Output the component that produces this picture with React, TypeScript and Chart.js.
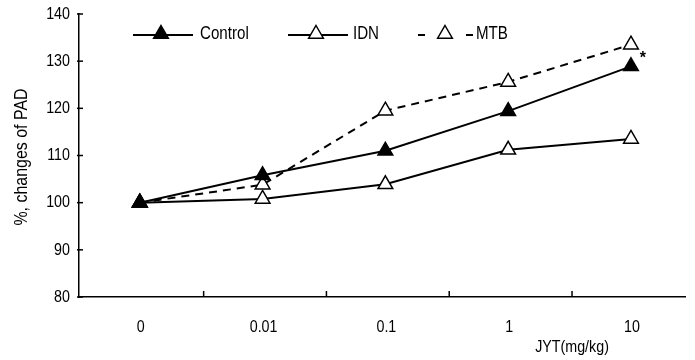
import React, { useEffect, useRef } from "react";
import { Chart, registerables } from "chart.js";

Chart.register(...registerables);

const categories = ["0", "0.01", "0.1", "1", "10"];
const controlValues = [100, 105.8, 111, 119.4, 128.9];
const idnValues = [100, 100.8, 103.9, 111.2, 113.5];
const mtbValues = [100, 103.8, 119.5, 125.6, 133.5];
const yTicks = [80, 90, 100, 110, 120, 130, 140];
const xTitle = "JYT(mg/kg)";
const yTitle = "%, changes of PAD";
const legendLabels = ["Control", "IDN", "MTB"];

const FONT = "'Liberation Sans', Arial, sans-serif";
const SX = 0.84;

const toPoints = (vals: number[]) => vals.map((v, i) => ({ x: i, y: v }));

const narrowText = (
  ctx: CanvasRenderingContext2D,
  text: string,
  x: number,
  y: number,
  size: number,
  align: CanvasTextAlign,
  rotate = 0
) => {
  ctx.save();
  ctx.translate(x, y);
  if (rotate) ctx.rotate(rotate);
  ctx.scale(SX, 1);
  ctx.font = `${size}px ${FONT}`;
  ctx.textAlign = align;
  ctx.textBaseline = "middle";
  ctx.fillStyle = "#000";
  ctx.fillText(text, 0, 0);
  ctx.restore();
};

const decorPlugin = {
  id: "decor",
  afterDraw(chart: any) {
    const ctx = chart.ctx;
    const xs = chart.scales.x;
    const ys = chart.scales.y;
    const area = chart.chartArea;
    ctx.save();
    ctx.strokeStyle = "#000";
    ctx.fillStyle = "#000";
    ctx.lineWidth = 1.5;
    // inward tick marks on x axis between categories
    for (let i = 0; i < categories.length - 1; i++) {
      const px = xs.getPixelForValue(i + 0.52);
      ctx.beginPath();
      ctx.moveTo(px, area.bottom);
      ctx.lineTo(px, area.bottom - 6);
      ctx.stroke();
    }
    // y tick marks and labels
    yTicks.forEach((t) => {
      const py = ys.getPixelForValue(t);
      ctx.beginPath();
      ctx.moveTo(area.left - 2, py);
      ctx.lineTo(area.left + 4, py);
      ctx.stroke();
      narrowText(ctx, String(t), area.left - 9, py, 17, "right");
    });
    // x labels
    categories.forEach((c, i) => {
      narrowText(ctx, c, xs.getPixelForValue(i) + 1, 327, 17, "center");
    });
    // x title
    narrowText(ctx, xTitle, xs.getPixelForValue(3.52), 347, 17, "center");
    // y title
    narrowText(ctx, yTitle, 22, 157, 19, "center", -Math.PI / 2);
    // asterisk
    const ax = xs.getPixelForValue(4) + 12;
    const ay = ys.getPixelForValue(controlValues[4]) - 8;
    ctx.font = `bold 16px ${FONT}`;
    ctx.textAlign = "center";
    ctx.textBaseline = "middle";
    ctx.fillText("*", ax, ay);

    // legend
    const ly = 35;
    const tri = (cx: number, cy: number, filled: boolean) => {
      const r = 8.5;
      ctx.beginPath();
      ctx.moveTo(cx, cy - r);
      ctx.lineTo(cx + r * 0.866, cy + r * 0.5);
      ctx.lineTo(cx - r * 0.866, cy + r * 0.5);
      ctx.closePath();
      ctx.fillStyle = filled ? "#000" : "#fff";
      ctx.fill();
      ctx.lineWidth = 1.5;
      ctx.stroke();
      ctx.fillStyle = "#000";
    };
    ctx.lineWidth = 2;
    ctx.beginPath();
    ctx.moveTo(133, ly);
    ctx.lineTo(193, ly);
    ctx.stroke();
    tri(161, ly - 1, true);
    ctx.lineWidth = 2;
    ctx.beginPath();
    ctx.moveTo(288, ly);
    ctx.lineTo(348, ly);
    ctx.stroke();
    tri(316, ly - 1, false);
    ctx.lineWidth = 2;
    ctx.beginPath();
    ctx.moveTo(418, ly);
    ctx.lineTo(425, ly);
    ctx.moveTo(466, ly);
    ctx.lineTo(473, ly);
    ctx.stroke();
    tri(445, ly - 1, false);
    narrowText(ctx, legendLabels[0], 200, ly - 1, 18, "left");
    narrowText(ctx, legendLabels[1], 353, ly - 1, 18, "left");
    narrowText(ctx, legendLabels[2], 476, ly - 1, 18, "left");
    ctx.restore();
  },
};

export default function App() {
  const ref = useRef<HTMLCanvasElement>(null);
  useEffect(() => {
    if (!ref.current) return;
    const common = {
      pointStyle: "triangle",
      pointRadius: 8.5,
      pointBorderWidth: 1.5,
      pointBorderColor: "#000",
      borderColor: "#000",
      borderWidth: 2,
    };
    const chart = new Chart(ref.current, {
      type: "line",
      data: {
        datasets: [
          { ...common, label: legendLabels[0], data: toPoints(controlValues), pointBackgroundColor: "#000", order: 1 },
          { ...common, label: legendLabels[1], data: toPoints(idnValues), pointBackgroundColor: "#fff", order: 2 },
          { ...common, label: legendLabels[2], data: toPoints(mtbValues), pointBackgroundColor: "#fff", borderDash: [8, 6], order: 3 },
        ],
      },
      options: {
        responsive: false,
        animation: false,
        layout: { padding: { left: 0, right: 7, top: 14, bottom: 0 } },
        plugins: { legend: { display: false }, tooltip: { enabled: false } },
        scales: {
          x: {
            type: "linear",
            min: -0.495,
            max: 4.44,
            afterBuildTicks: (s: any) => {
              s.ticks = categories.map((_, i) => ({ value: i }));
            },
            afterFit: (s: any) => {
              s.height = 63;
            },
            grid: { display: false, drawTicks: false },
            border: { display: true, color: "#000", width: 1.5 },
            ticks: { display: false },
          },
          y: {
            min: 80,
            max: 140,
            afterBuildTicks: (s: any) => {
              s.ticks = yTicks.map((v) => ({ value: v }));
            },
            afterFit: (s: any) => {
              s.width = 79;
            },
            grid: { display: false, drawTicks: false },
            border: { display: true, color: "#000", width: 1.5 },
            ticks: { display: false },
          },
        },
      },
      plugins: [decorPlugin],
    } as any);
    return () => chart.destroy();
  }, []);
  return (
    <div style={{ position: "fixed", left: 0, top: 0, width: 695, height: 360, background: "#fff" }}>
      <canvas ref={ref} width={695} height={360} />
    </div>
  );
}
